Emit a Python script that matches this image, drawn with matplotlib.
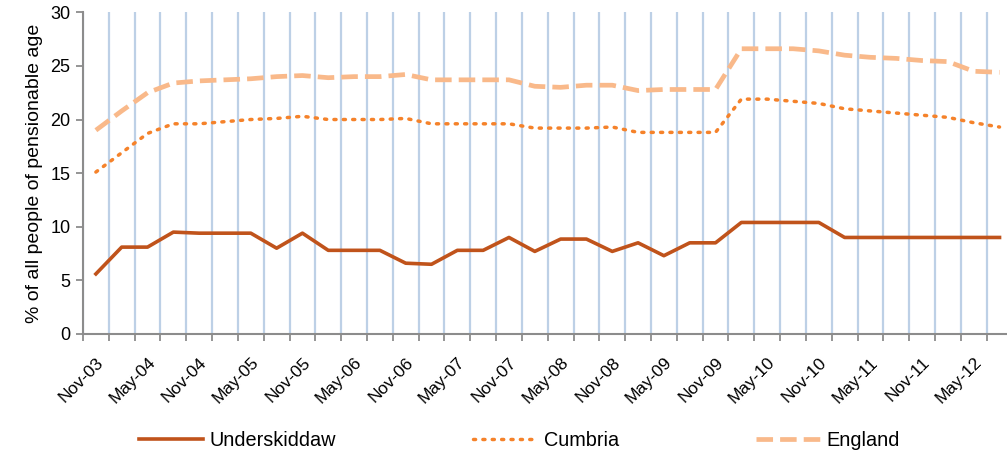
import numpy as np
import matplotlib.pyplot as plt

plt.rcParams['font.family'] = ['Liberation Sans', 'DejaVu Sans']

# quarterly, Nov-03 .. Aug-12
quarters = ["Nov-03", "Feb-04", "May-04", "Aug-04", "Nov-04", "Feb-05", "May-05", "Aug-05",
            "Nov-05", "Feb-06", "May-06", "Aug-06", "Nov-06", "Feb-07", "May-07", "Aug-07",
            "Nov-07", "Feb-08", "May-08", "Aug-08", "Nov-08", "Feb-09", "May-09", "Aug-09",
            "Nov-09", "Feb-10", "May-10", "Aug-10", "Nov-10", "Feb-11", "May-11", "Aug-11",
            "Nov-11", "Feb-12", "May-12", "Aug-12"]

underskiddaw = [5.6, 8.1, 8.1, 9.5, 9.4, 9.4, 9.4, 8.0, 9.4, 7.8, 7.8, 7.8,
                6.6, 6.5, 7.8, 7.8, 9.0, 7.7, 8.85, 8.85, 7.7, 8.5, 7.3, 8.5,
                8.5, 10.4, 10.4, 10.4, 10.4, 9.0, 9.0, 9.0, 9.0, 9.0, 9.0, 9.0]
cumbria = [15.1, 16.9, 18.7, 19.6, 19.6, 19.8, 20.0, 20.1, 20.3, 20.0, 20.0, 20.0,
           20.1, 19.6, 19.6, 19.6, 19.6, 19.2, 19.2, 19.2, 19.3, 18.8, 18.8, 18.8,
           18.8, 21.9, 21.9, 21.7, 21.5, 21.0, 20.8, 20.6, 20.4, 20.2, 19.7, 19.3]
england = [19.0, 20.8, 22.5, 23.4, 23.6, 23.7, 23.8, 24.0, 24.1, 23.9, 24.0, 24.0,
           24.2, 23.7, 23.7, 23.7, 23.7, 23.1, 23.0, 23.2, 23.2, 22.7, 22.8, 22.8,
           22.8, 26.6, 26.6, 26.6, 26.4, 26.0, 25.8, 25.7, 25.5, 25.4, 24.5, 24.4]

x = np.arange(len(quarters))

fig = plt.figure(figsize=(10.07, 4.55), dpi=100)
ax = fig.add_axes([0.0824, 0.266, 0.923, 0.707])

ax.plot(x, underskiddaw, color="#C0531B", lw=2.6, label="Underskiddaw", zorder=3)
ax.plot(x, cumbria, color="#F5822A", lw=2.5, linestyle=(0, (0.6, 2.1)),
        dash_capstyle="round", label="Cumbria", zorder=3)
ax.plot(x, england, color="#F9B98A", lw=3.4, linestyle=(0, (3.5, 1.5)),
        label="England", zorder=3)

ax.set_xlim(-0.5, len(quarters) - 0.5)
ax.set_ylim(0, 30)
ax.set_yticks(range(0, 31, 5))

ax.set_xticks(x[::2])
ax.set_xticklabels(quarters[::2], rotation=45, ha="right", rotation_mode="anchor")
ax.set_xticks(np.arange(-0.5, len(quarters), 1), minor=True)
ax.tick_params(axis="x", which="major", length=0, pad=15, labelsize=12.5)
ax.tick_params(axis="x", which="minor", length=5, width=1.3, color="#8C8C8C")
ax.tick_params(axis="y", length=5, width=1.3, color="#8C8C8C", labelsize=13, pad=4)
ax.grid(which="minor", axis="x", color="#BDD0E6", lw=1.6, zorder=0)

for s in ["top", "right"]:
    ax.spines[s].set_visible(False)
for s in ["left", "bottom"]:
    ax.spines[s].set_color("#8C8C8C")
    ax.spines[s].set_linewidth(1.5)

ax.set_ylabel("% of all people of pensionable age", fontsize=14, labelpad=5)

fig.legend(loc="center", bbox_to_anchor=(0.516, 0.031), ncol=3, frameon=False,
           fontsize=14.3, handlelength=3.2, handletextpad=0.35, columnspacing=6.9)

fig.savefig("out.png", dpi=100)
